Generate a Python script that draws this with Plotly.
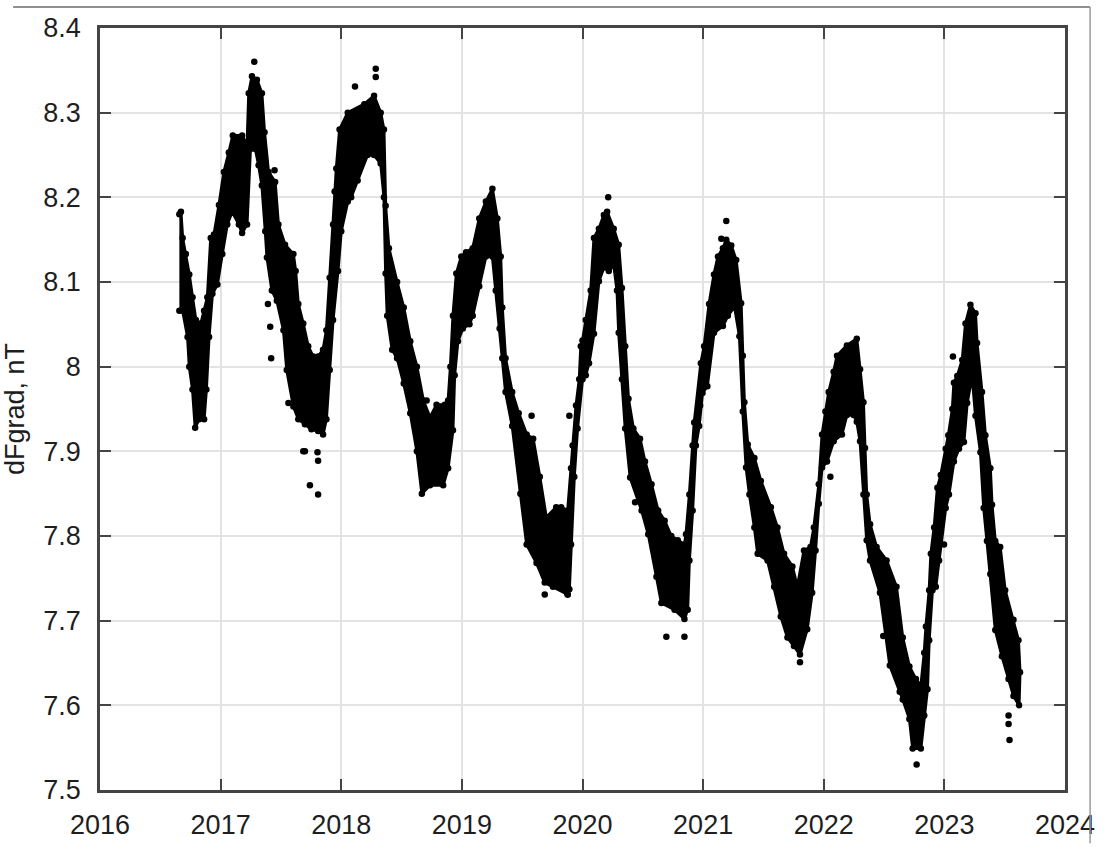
import plotly.graph_objects as go

# Upper envelope of the dFgrad point cloud (decimal year, nT)
UPPER_DATE = [2016.658, 2016.671, 2016.685, 2016.712, 2016.740, 2016.767, 2016.795, 2016.836, 2016.863, 2016.890,
              2016.918, 2016.945, 2016.986, 2017.027, 2017.068, 2017.101, 2017.178, 2017.219, 2017.233, 2017.260,
              2017.301, 2017.342, 2017.364, 2017.397, 2017.452, 2017.479, 2017.534, 2017.603, 2017.622, 2017.644,
              2017.685, 2017.726, 2017.767, 2017.808, 2017.849, 2017.877, 2017.904, 2017.932, 2017.945, 2017.959,
              2017.986, 2018.054, 2018.191, 2018.272, 2018.327, 2018.354, 2018.368, 2018.395, 2018.463, 2018.518,
              2018.572, 2018.627, 2018.681, 2018.736, 2018.790, 2018.858, 2018.886, 2018.905, 2018.926, 2018.954,
              2018.995, 2019.035, 2019.090, 2019.144, 2019.199, 2019.253, 2019.294, 2019.322, 2019.335, 2019.362,
              2019.417, 2019.471, 2019.537, 2019.591, 2019.646, 2019.700, 2019.782, 2019.823, 2019.877, 2019.905,
              2019.918, 2019.946, 2019.973, 2019.986, 2020.000, 2020.027, 2020.068, 2020.095, 2020.136, 2020.177,
              2020.204, 2020.259, 2020.300, 2020.327, 2020.354, 2020.381, 2020.422, 2020.477, 2020.518, 2020.572,
              2020.627, 2020.681, 2020.736, 2020.790, 2020.845, 2020.858, 2020.886, 2020.913, 2020.926, 2020.981,
              2021.008, 2021.049, 2021.090, 2021.123, 2021.164, 2021.192, 2021.233, 2021.274, 2021.315, 2021.329,
              2021.342, 2021.370, 2021.425, 2021.479, 2021.562, 2021.616, 2021.671, 2021.740, 2021.781, 2021.836,
              2021.890, 2021.918, 2021.959, 2021.986, 2022.014, 2022.041, 2022.082, 2022.110, 2022.192, 2022.274,
              2022.301, 2022.329, 2022.342, 2022.356, 2022.384, 2022.438, 2022.521, 2022.603, 2022.655, 2022.710,
              2022.764, 2022.805, 2022.833, 2022.847, 2022.874, 2022.888, 2022.915, 2022.942, 2022.970, 2023.011,
              2023.033, 2023.066, 2023.079, 2023.107, 2023.148, 2023.175, 2023.216, 2023.258, 2023.271, 2023.312,
              2023.340, 2023.381, 2023.395, 2023.422, 2023.463, 2023.504, 2023.573, 2023.614, 2023.627]
UPPER_NT = [8.180, 8.183, 8.152, 8.133, 8.109, 8.082, 8.055, 8.051, 8.066, 8.082,
            8.152, 8.156, 8.191, 8.230, 8.253, 8.273, 8.273, 8.261, 8.323, 8.343,
            8.339, 8.323, 8.277, 8.230, 8.218, 8.168, 8.144, 8.133, 8.113, 8.074,
            8.051, 8.024, 8.012, 8.012, 8.020, 8.043, 8.105, 8.168, 8.207, 8.234,
            8.280, 8.300, 8.310, 8.320, 8.300, 8.280, 8.190, 8.140, 8.100, 8.070,
            8.030, 8.000, 7.960, 7.940, 7.955, 7.955, 7.960, 8.000, 8.060, 8.110,
            8.130, 8.135, 8.140, 8.175, 8.195, 8.210, 8.175, 8.130, 8.070, 8.010,
            7.970, 7.945, 7.920, 7.915, 7.870, 7.822, 7.834, 7.834, 7.830, 7.880,
            7.907, 7.954, 7.985, 8.024, 8.031, 8.055, 8.090, 8.152, 8.163, 8.179,
            8.183, 8.163, 8.144, 8.093, 8.024, 7.962, 7.927, 7.915, 7.888, 7.861,
            7.830, 7.818, 7.800, 7.795, 7.790, 7.802, 7.849, 7.907, 7.934, 8.004,
            8.024, 8.074, 8.109, 8.130, 8.140, 8.150, 8.143, 8.126, 8.075, 8.013,
            7.958, 7.908, 7.892, 7.865, 7.834, 7.810, 7.779, 7.764, 7.740, 7.783,
            7.787, 7.810, 7.861, 7.920, 7.947, 7.970, 7.994, 8.013, 8.025, 8.033,
            7.997, 7.958, 7.904, 7.849, 7.814, 7.787, 7.771, 7.740, 7.680, 7.646,
            7.631, 7.623, 7.662, 7.693, 7.736, 7.779, 7.810, 7.857, 7.872, 7.903,
            7.919, 7.950, 7.981, 7.989, 8.008, 8.051, 8.073, 8.063, 8.028, 7.970,
            7.919, 7.880, 7.837, 7.794, 7.787, 7.736, 7.701, 7.677, 7.639]

# Lower envelope of the point cloud (decimal year, nT)
LOWER_DATE = [2016.658, 2016.685, 2016.726, 2016.740, 2016.767, 2016.789, 2016.822, 2016.863, 2016.882, 2016.904,
              2016.932, 2016.973, 2017.014, 2017.055, 2017.096, 2017.151, 2017.178, 2017.219, 2017.247, 2017.288,
              2017.315, 2017.342, 2017.370, 2017.384, 2017.425, 2017.466, 2017.521, 2017.548, 2017.603, 2017.644,
              2017.699, 2017.753, 2017.808, 2017.849, 2017.877, 2017.904, 2017.932, 2017.973, 2018.000, 2018.054,
              2018.082, 2018.136, 2018.218, 2018.272, 2018.327, 2018.354, 2018.368, 2018.381, 2018.422, 2018.463,
              2018.518, 2018.572, 2018.627, 2018.668, 2018.736, 2018.845, 2018.886, 2018.926, 2018.940, 2018.967,
              2019.008, 2019.063, 2019.090, 2019.144, 2019.199, 2019.253, 2019.281, 2019.313, 2019.335, 2019.362,
              2019.417, 2019.485, 2019.537, 2019.619, 2019.687, 2019.755, 2019.877, 2019.891, 2019.905, 2019.932,
              2019.959, 2020.000, 2020.027, 2020.054, 2020.095, 2020.136, 2020.177, 2020.218, 2020.259, 2020.286,
              2020.300, 2020.327, 2020.354, 2020.395, 2020.490, 2020.545, 2020.613, 2020.654, 2020.763, 2020.845,
              2020.872, 2020.886, 2020.913, 2020.940, 2020.967, 2020.995, 2021.035, 2021.090, 2021.164, 2021.205,
              2021.260, 2021.301, 2021.329, 2021.356, 2021.384, 2021.425, 2021.452, 2021.534, 2021.589, 2021.644,
              2021.699, 2021.753, 2021.803, 2021.863, 2021.904, 2021.932, 2021.959, 2021.986, 2022.027, 2022.082,
              2022.151, 2022.192, 2022.247, 2022.274, 2022.301, 2022.329, 2022.356, 2022.384, 2022.466, 2022.548,
              2022.630, 2022.655, 2022.710, 2022.737, 2022.805, 2022.833, 2022.860, 2022.874, 2022.901, 2022.929,
              2022.956, 2023.011, 2023.038, 2023.079, 2023.121, 2023.162, 2023.189, 2023.230, 2023.258, 2023.299,
              2023.326, 2023.353, 2023.381, 2023.422, 2023.477, 2023.532, 2023.573, 2023.619]
LOWER_NT = [8.066, 8.066, 8.035, 8.000, 7.973, 7.928, 7.938, 7.938, 7.973, 8.035,
            8.086, 8.097, 8.133, 8.168, 8.183, 8.168, 8.158, 8.168, 8.257, 8.257,
            8.238, 8.214, 8.160, 8.129, 8.090, 8.078, 8.043, 7.996, 7.953, 7.938,
            7.932, 7.926, 7.924, 7.920, 7.938, 7.996, 8.055, 8.113, 8.160, 8.195,
            8.200, 8.220, 8.250, 8.250, 8.240, 8.200, 8.110, 8.060, 8.020, 8.010,
            7.980, 7.945, 7.900, 7.850, 7.860, 7.860, 7.880, 7.925, 7.990, 8.030,
            8.045, 8.050, 8.060, 8.095, 8.130, 8.130, 8.090, 8.045, 8.010, 7.970,
            7.930, 7.850, 7.790, 7.768, 7.745, 7.740, 7.731, 7.737, 7.790, 7.870,
            7.927, 7.985, 7.990, 8.004, 8.039, 8.101, 8.117, 8.113, 8.120, 8.090,
            8.040, 7.985, 7.927, 7.869, 7.830, 7.802, 7.752, 7.721, 7.713, 7.702,
            7.713, 7.771, 7.830, 7.907, 7.930, 7.969, 7.977, 8.040, 8.048, 8.060,
            8.071, 8.036, 7.947, 7.881, 7.849, 7.810, 7.779, 7.771, 7.740, 7.705,
            7.680, 7.670, 7.660, 7.690, 7.733, 7.783, 7.838, 7.881, 7.888, 7.912,
            7.920, 7.943, 7.943, 7.935, 7.912, 7.849, 7.795, 7.771, 7.733, 7.647,
            7.616, 7.607, 7.584, 7.549, 7.549, 7.588, 7.619, 7.677, 7.736, 7.740,
            7.771, 7.833, 7.849, 7.888, 7.903, 7.911, 7.957, 7.989, 7.942, 7.899,
            7.833, 7.794, 7.755, 7.689, 7.658, 7.631, 7.611, 7.600]

# Isolated points lying outside the main band
OUT_DATE = [2017.279, 2017.447, 2017.392, 2017.411, 2017.419, 2017.562, 2017.685, 2017.699, 2017.740, 2017.803,
            2017.808, 2017.808, 2018.286, 2018.286, 2018.114, 2018.708, 2019.578, 2019.891, 2019.687, 2019.877,
            2020.213, 2020.436, 2020.695, 2020.845, 2020.975, 2021.151, 2021.192, 2021.803, 2022.055, 2022.493,
            2022.770, 2022.997, 2023.071, 2023.532, 2023.532, 2023.540]
OUT_NT = [8.360, 8.232, 8.074, 8.047, 8.010, 7.957, 7.900, 7.900, 7.860, 7.899,
          7.889, 7.849, 8.352, 8.342, 8.331, 7.960, 7.942, 7.942, 7.731, 7.731,
          8.200, 7.840, 7.681, 7.681, 7.954, 8.151, 8.172, 7.651, 7.870, 7.682,
          7.530, 7.790, 8.012, 7.588, 7.578, 7.559]

X_TICKS = [2016, 2017, 2018, 2019, 2020, 2021, 2022, 2023, 2024]
Y_TICKS = [7.5, 7.6, 7.7, 7.8, 7.9, 8.0, 8.1, 8.2, 8.3, 8.4]
Y_TICK_TEXT = ["7.5", "7.6", "7.7", "7.8", "7.9", "8", "8.1", "8.2", "8.3", "8.4"]
Y_TITLE = "dFgrad, nT"

FONT = "Liberation Sans Narrow, Arial Narrow, Liberation Sans, Arial, sans-serif"
AXIS_COLOR = "#444444"
TEXT_COLOR = "#1e1e1e"

fig = go.Figure()

# filled band of the dense point cloud
fig.add_trace(go.Scatter(
    x=UPPER_DATE + LOWER_DATE[::-1],
    y=UPPER_NT + LOWER_NT[::-1],
    mode="lines", fill="toself", fillcolor="black",
    line=dict(color="black", width=3),
    hoverinfo="skip", showlegend=False))

# dotted edges of the band
for xs, ys in [(UPPER_DATE, UPPER_NT), (LOWER_DATE, LOWER_NT)]:
    fig.add_trace(go.Scatter(
        x=xs, y=ys, mode="markers",
        marker=dict(color="black", size=6.5),
        showlegend=False))

# isolated points
fig.add_trace(go.Scatter(
    x=OUT_DATE, y=OUT_NT, mode="markers",
    marker=dict(color="black", size=6.5),
    showlegend=False))

axis_common = dict(
    showline=True, linecolor=AXIS_COLOR, linewidth=2.5, mirror="ticks",
    ticks="inside", ticklen=11, tickwidth=2, tickcolor=AXIS_COLOR,
    showgrid=True, gridcolor="#e3e3e3", gridwidth=1.5,
    zeroline=False,
    tickfont=dict(family=FONT, size=27, color=TEXT_COLOR),
)

fig.update_xaxes(range=[2016, 2024], tickvals=X_TICKS,
                 ticktext=[str(t) for t in X_TICKS], ticklabelstandoff=9,
                 **axis_common)
fig.update_yaxes(range=[7.5, 8.4], tickvals=Y_TICKS, ticktext=Y_TICK_TEXT,
                 ticklabelstandoff=11,
                 title=dict(text=Y_TITLE, font=dict(family=FONT, size=27, color=TEXT_COLOR),
                            standoff=12),
                 **axis_common)

fig.update_layout(
    width=1107, height=852,
    margin=dict(l=96, r=37, t=28, b=53),
    paper_bgcolor="white", plot_bgcolor="white",
    shapes=[
        dict(type="line", xref="paper", yref="paper", x0=-0.09, x1=1.026, y0=1.0276, y1=1.0276,
             line=dict(color="#6a6a6a", width=1.5)),
        dict(type="line", xref="paper", yref="paper", x0=1.026, x1=1.026, y0=1.0276, y1=-0.07,
             line=dict(color="#9a9a9a", width=1.5)),
    ],
)

fig.write_html("out.html")
